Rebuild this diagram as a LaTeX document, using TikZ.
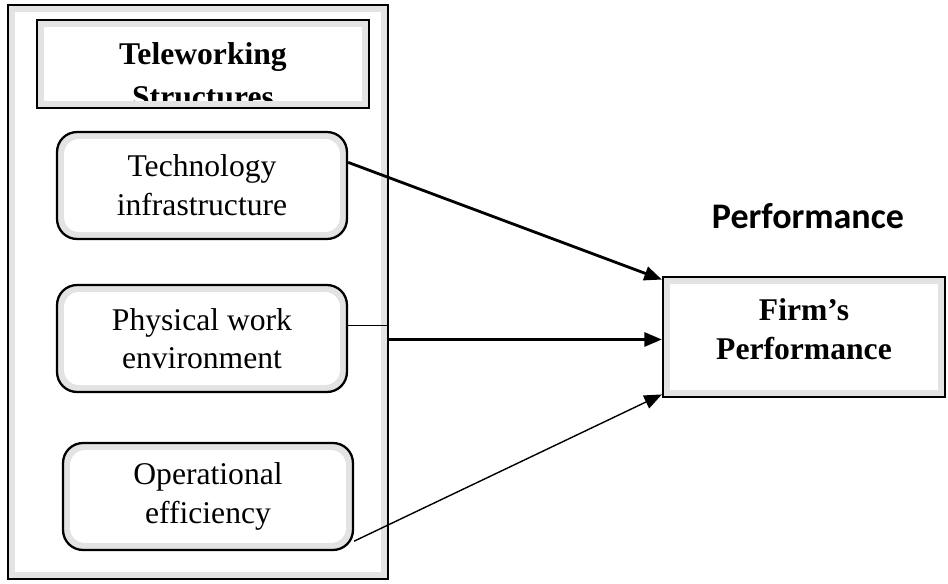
\documentclass[tikz,border=0pt]{standalone}
\usepackage{fontspec}
\setmainfont{Liberation Serif}
\newfontfamily\headfont{Carlito}
\usetikzlibrary{positioning,arrows.meta}

\tikzset{
  bevel/.style={fill=gray!22, path picture={
      \fill[white, rounded corners=#1]
        ([shift={(4pt,-4pt)}]path picture bounding box.north west)
        rectangle ([shift={(-4pt,4pt)}]path picture bounding box.south east);}},
  bevel/.default=0pt,
  framebox/.style={draw, line width=1.4pt, bevel, minimum width=7.6cm, minimum height=11.48cm},
  headbox/.style={draw, line width=1.3pt, bevel, minimum width=6.64cm, minimum height=1.76cm},
  factor/.style={draw, line width=1.3pt, rounded corners=0.4cm, bevel=0.3cm,
    minimum width=5.8cm, minimum height=2.14cm, align=center,
    font=\fontsize{18}{22}\selectfont},
  outcome/.style={draw, line width=1.3pt, bevel, minimum width=5.64cm, minimum height=2.4cm},
  link/.style={-{Triangle[length=10pt,width=8pt]}, line width=1.6pt},
}

\begin{document}
\begin{tikzpicture}[x=0.02cm, y=-0.02cm]
  \useasboundingbox (0,0) rectangle (948,583);

  % Left frame holding the teleworking factors
  \node[framebox] (frame) at (198,292) {};
  \node[headbox] (head) at (203,64) {};
  \begin{scope}
    \clip (42,25) rectangle (364,100);
    \node[align=center, font=\bfseries\fontsize{18}{24.4}\selectfont] (headtxt) at (203,75)
      {Teleworking\\Structures};
  \end{scope}

  \node[factor] (tech) at (202,185.5) {Technology\\infrastructure};
  \node[factor] (phys) at (202,338.5) {Physical work\\environment};
  \node[factor] (oper) at (208,496.5) {Operational\\efficiency};

  % Outcome side
  \node[font=\headfont\bfseries\fontsize{20.5}{24}\selectfont, anchor=base] (perf) at (808,228) {Performance};
  \node[outcome] (firm) at (804,337) {};
  \node[align=center, font=\bfseries\fontsize{18}{22}\selectfont] (firmtxt) at (804,329) {Firm’s\\Performance};

  % Links
  \draw[link] (tech.9) -- (firm.158);
  \draw[line width=0.6pt] (phys.5) -- (phys.5 -| frame.east);
  \draw[link] (frame.east |- firm.181) -- (firm.181);
  \draw[link, line width=0.8pt] (oper.-17) -- (firm.202);
\end{tikzpicture}
\end{document}
